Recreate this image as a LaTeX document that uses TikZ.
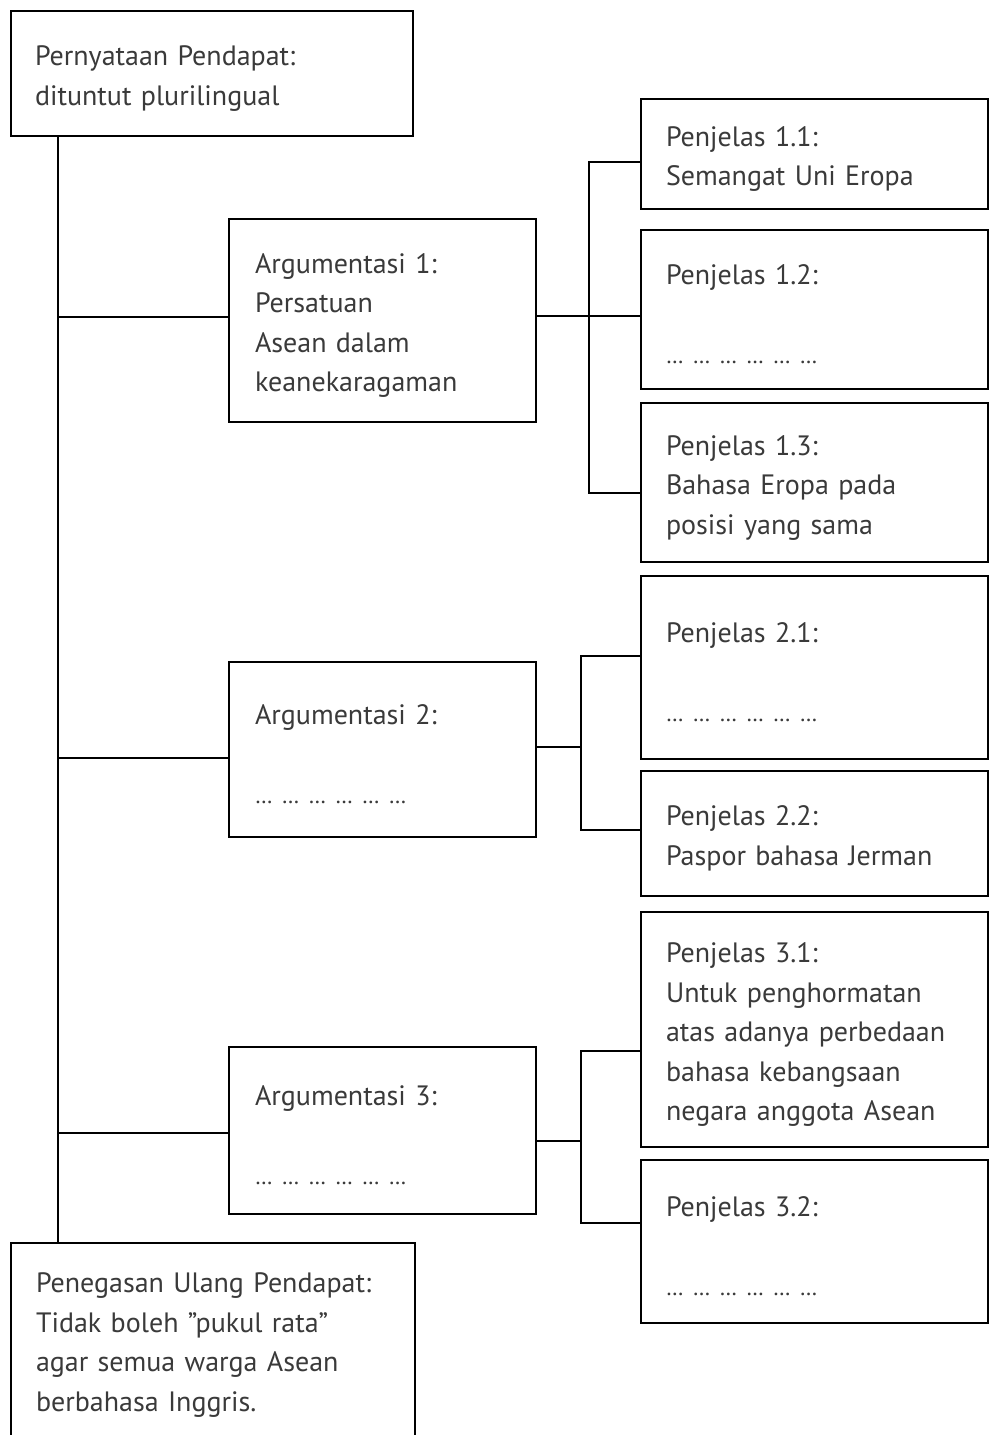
\documentclass[tikz,border=0pt]{standalone}
\usepackage{fontspec}
\setmainfont{PT Sans}
\definecolor{txt}{HTML}{3A3A3A}
\newcommand\dotline{{\fontsize{23}{39.5}\selectfont … … … … … …}}
\tikzset{
  box/.style={draw=black, line width=2.7pt, inner xsep=0pt, inner ysep=0pt, align=left, text=txt,
    font=\fontsize{28}{39.5}\selectfont, execute at begin node={\rule{0pt}{30pt}}},
  argbox/.style={box, minimum width=307, text width=255},
  pbox/.style={box, minimum width=347, text width=297},
  conn/.style={draw=black, line width=2.7pt}
}
\begin{document}
\begin{tikzpicture}[x=1pt,y=-1pt]
\useasboundingbox (0,0) rectangle (990,1435);
\fill[white] (0,0) rectangle (990,1435);
\clip (0,0) rectangle (990,1435);

\node[box, minimum width=402, minimum height=125, text width=354] (top) at (212,73.5)
  {Pernyataan Pendapat:\\ dituntut plurilingual};
\node[box, minimum width=404, minimum height=194, text width=354] (end) at (213,1340)
  {Penegasan Ulang Pendapat:\\ Tidak boleh ”pukul rata”\\ agar semua warga Asean\\ berbahasa Inggris.};

\node[argbox, minimum height=203] (arg1) at (382.5,320.5)
  {Argumentasi 1:\\ Persatuan\\ Asean dalam\\ keanekaragaman};
\node[argbox, minimum height=175] (arg2) at (382.5,749.5)
  {Argumentasi 2:\\ ~\\ \dotline};
\node[argbox, minimum height=167] (arg3) at (382.5,1130.5)
  {Argumentasi 3:\\ ~\\ \dotline};

\node[pbox, minimum height=110] (p11) at (814.5,154) {Penjelas 1.1:\\ Semangat Uni Eropa};
\node[pbox, minimum height=159] (p12) at (814.5,309.5) {Penjelas 1.2:\\ ~\\ \dotline};
\node[pbox, minimum height=159] (p13) at (814.5,482.5) {Penjelas 1.3:\\ Bahasa Eropa pada\\ posisi yang sama};
\node[pbox, minimum height=183] (p21) at (814.5,667.5) {Penjelas 2.1:\\ ~\\ \dotline};
\node[pbox, minimum height=125] (p22) at (814.5,833.5) {Penjelas 2.2:\\ Paspor bahasa Jerman};
\node[pbox, minimum height=235] (p31) at (814.5,1029.5) {Penjelas 3.1:\\ Untuk penghormatan\\ atas adanya perbedaan\\ bahasa kebangsaan\\ negara anggota Asean};
\node[pbox, minimum height=163] (p32) at (814.5,1241.5) {Penjelas 3.2:\\ ~\\ \dotline};

% spine
\coordinate (sx) at (58,0);
\draw[conn] (top.south -| sx) -- (end.north -| sx);
\coordinate (h1) at (0,317);
\coordinate (h2) at (0,758);
\coordinate (h3) at (0,1133);
\draw[conn] (h1 -| sx) -- (h1 -| arg1.west);
\draw[conn] (h2 -| sx) -- (h2 -| arg2.west);
\draw[conn] (h3 -| sx) -- (h3 -| arg3.west);

% bracket 1
\coordinate (b1m) at (589,316);
\coordinate (b1t) at (589,162);
\coordinate (b1b) at (589,493);
\draw[conn] (b1m -| arg1.east) -- (b1m -| p12.west);
\draw[conn] (b1t -| p11.west) -- (b1t) -- (b1b) -- (b1b -| p13.west);

% bracket 2
\coordinate (b2m) at (581,747);
\coordinate (b2t) at (581,656);
\coordinate (b2b) at (581,830);
\draw[conn] (b2m -| arg2.east) -- (b2m);
\draw[conn] (b2t -| p21.west) -- (b2t) -- (b2b) -- (b2b -| p22.west);

% bracket 3
\coordinate (b3m) at (581,1141);
\coordinate (b3t) at (581,1051);
\coordinate (b3b) at (581,1223);
\draw[conn] (b3m -| arg3.east) -- (b3m);
\draw[conn] (b3t -| p31.west) -- (b3t) -- (b3b) -- (b3b -| p32.west);
\end{tikzpicture}
\end{document}
